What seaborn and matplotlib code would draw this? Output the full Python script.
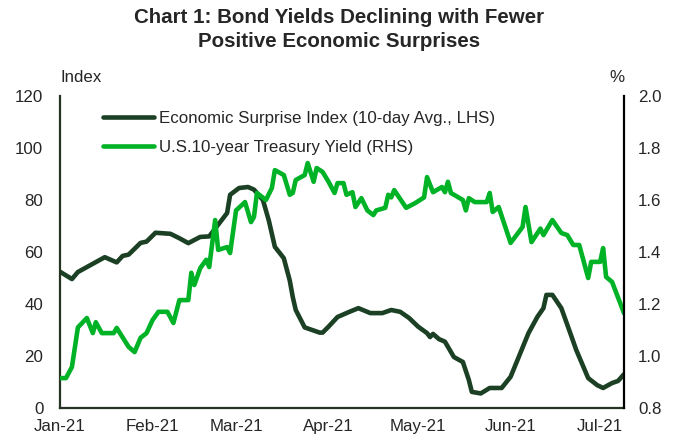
import matplotlib
matplotlib.use("Agg")
import matplotlib.pyplot as plt
import matplotlib.dates as mdates
import numpy as np
import pandas as pd
import seaborn as sns

# Economic surprise index, 10-day avg (LHS)
esi_dates = ['2021-01-01', '2021-01-05', '2021-01-07', '2021-01-16', '2021-01-20', '2021-01-22',
             '2021-01-24', '2021-01-28', '2021-01-30', '2021-02-02', '2021-02-07', '2021-02-10',
             '2021-02-13', '2021-02-17', '2021-02-20', '2021-02-22', '2021-02-26', '2021-02-27',
             '2021-03-02', '2021-03-05', '2021-03-07', '2021-03-10', '2021-03-12', '2021-03-14',
             '2021-03-17', '2021-03-19', '2021-03-20', '2021-03-21', '2021-03-24', '2021-03-29',
             '2021-03-30', '2021-04-01', '2021-04-04', '2021-04-08', '2021-04-11', '2021-04-15',
             '2021-04-19', '2021-04-22', '2021-04-25', '2021-04-28', '2021-05-01', '2021-05-04',
             '2021-05-05', '2021-05-06', '2021-05-08', '2021-05-10', '2021-05-13', '2021-05-16',
             '2021-05-18', '2021-05-19', '2021-05-22', '2021-05-25', '2021-05-29', '2021-06-01',
             '2021-06-04', '2021-06-07', '2021-06-10', '2021-06-12', '2021-06-13', '2021-06-15',
             '2021-06-18', '2021-06-21', '2021-06-23', '2021-06-27', '2021-06-30', '2021-07-02',
             '2021-07-05', '2021-07-07', '2021-07-09']
esi_values = [52.4, 49.6, 52.3, 58.0, 56.0, 58.5,
              59.0, 63.5, 64.0, 67.4, 67.0, 65.3,
              63.4, 65.8, 66.0, 69.0, 75.0, 82.0,
              84.6, 85.0, 84.0, 80.0, 72.0, 62.0,
              57.6, 49.0, 42.7, 37.7, 31.0, 29.0,
              29.0, 31.3, 35.0, 37.0, 38.4, 36.5,
              36.5, 37.7, 37.0, 34.6, 31.3, 28.8,
              27.3, 28.5, 26.5, 25.5, 19.6, 17.7,
              10.8, 6.2, 5.6, 7.7, 7.7, 12.0,
              20.4, 28.8, 35.1, 38.4, 43.5, 43.5,
              38.4, 28.8, 22.3, 11.5, 8.8, 7.7,
              9.6, 10.4, 13.0]

# US 10-year treasury yield (RHS)
ust_dates = ['2021-01-01', '2021-01-03', '2021-01-05', '2021-01-07', '2021-01-10', '2021-01-12',
             '2021-01-13', '2021-01-15', '2021-01-19', '2021-01-20', '2021-01-24', '2021-01-26',
             '2021-01-28', '2021-01-30', '2021-02-01', '2021-02-03', '2021-02-06', '2021-02-08',
             '2021-02-10', '2021-02-13', '2021-02-14', '2021-02-15', '2021-02-17', '2021-02-19',
             '2021-02-20', '2021-02-22', '2021-02-23', '2021-02-26', '2021-02-27', '2021-03-01',
             '2021-03-04', '2021-03-06', '2021-03-07', '2021-03-08', '2021-03-11', '2021-03-13',
             '2021-03-14', '2021-03-17', '2021-03-19', '2021-03-20', '2021-03-21', '2021-03-24',
             '2021-03-25', '2021-03-27', '2021-03-28', '2021-03-30', '2021-04-01', '2021-04-03',
             '2021-04-04', '2021-04-06', '2021-04-07', '2021-04-09', '2021-04-10', '2021-04-12',
             '2021-04-14', '2021-04-16', '2021-04-17', '2021-04-20', '2021-04-21', '2021-04-22',
             '2021-04-23', '2021-04-27', '2021-04-30', '2021-05-03', '2021-05-04', '2021-05-06',
             '2021-05-09', '2021-05-10', '2021-05-11', '2021-05-12', '2021-05-16', '2021-05-17',
             '2021-05-18', '2021-05-20', '2021-05-24', '2021-05-25', '2021-05-26', '2021-05-28',
             '2021-06-01', '2021-06-05', '2021-06-06', '2021-06-08', '2021-06-11', '2021-06-12',
             '2021-06-15', '2021-06-18', '2021-06-20', '2021-06-22', '2021-06-24', '2021-06-27',
             '2021-06-28', '2021-07-01', '2021-07-02', '2021-07-03', '2021-07-05', '2021-07-09']
ust_values = [0.915, 0.915, 0.958, 1.110, 1.146, 1.088,
              1.130, 1.088, 1.088, 1.108, 1.035, 1.015,
              1.070, 1.088, 1.138, 1.170, 1.170, 1.127,
              1.215, 1.215, 1.320, 1.273, 1.338, 1.370,
              1.342, 1.523, 1.408, 1.419, 1.396, 1.560,
              1.592, 1.515, 1.535, 1.627, 1.600, 1.646,
              1.715, 1.696, 1.620, 1.627, 1.677, 1.696,
              1.742, 1.670, 1.723, 1.708, 1.670, 1.627,
              1.665, 1.665, 1.620, 1.630, 1.573, 1.607,
              1.560, 1.542, 1.560, 1.570, 1.620, 1.610,
              1.638, 1.570, 1.588, 1.610, 1.688, 1.630,
              1.650, 1.630, 1.670, 1.627, 1.600, 1.560,
              1.607, 1.592, 1.592, 1.627, 1.554, 1.573,
              1.435, 1.496, 1.573, 1.438, 1.490, 1.465,
              1.523, 1.473, 1.465, 1.427, 1.427, 1.300,
              1.362, 1.362, 1.415, 1.304, 1.285, 1.165]

month_ticks = ['2021-01-01', '2021-02-01', '2021-03-01', '2021-04-01',
               '2021-05-01', '2021-06-01', '2021-07-01']

esi = pd.DataFrame({'date': pd.to_datetime(esi_dates), 'value': esi_values})
ust = pd.DataFrame({'date': pd.to_datetime(ust_dates), 'value': ust_values})

sns.set_style('white')
plt.rcParams['font.family'] = ['Liberation Sans', 'DejaVu Sans']

dark = '#1b4024'
bright = '#00b226'
fs = 12.2

fig = plt.figure(figsize=(6.78, 4.36), dpi=100)
ax = fig.add_axes([60 / 678, 1 - 408 / 436, 564 / 678, 312 / 436])
ax2 = ax.twinx()

sns.lineplot(data=esi, x='date', y='value', ax=ax, color=dark, lw=3.3,
             label='Economic Surprise Index (10-day Avg., LHS)', legend=False)
sns.lineplot(data=ust, x='date', y='value', ax=ax2, color=bright, lw=3.3,
             label='U.S.10-year Treasury Yield (RHS)', legend=False)

ax.set_xlim(pd.Timestamp('2021-01-01'), pd.Timestamp('2021-07-09'))
ax.set_ylim(0, 120)
ax.set_yticks(np.arange(0, 121, 20))
ax2.set_ylim(0.8, 2.0)
ax2.set_yticks(np.arange(0.8, 2.01, 0.2))
ax2.yaxis.set_major_formatter(matplotlib.ticker.FormatStrFormatter('%.1f'))

ax.set_xticks(pd.to_datetime(month_ticks))
ax.xaxis.set_major_formatter(mdates.DateFormatter('%b-%y'))

for a in (ax, ax2):
    a.set_xlabel('')
    a.set_ylabel('')
    for s in a.spines.values():
        s.set_visible(False)
ax.spines['left'].set_visible(True)
ax.spines['bottom'].set_visible(True)
ax.spines['left'].set_color('#243322')
ax.spines['bottom'].set_color('#243322')
ax.spines['left'].set_linewidth(1.6)
ax.spines['bottom'].set_linewidth(1.6)
ax2.spines['right'].set_visible(True)
ax2.spines['right'].set_color('black')
ax2.spines['right'].set_linewidth(1.6)

ax.tick_params(axis='y', length=0, pad=12, labelsize=fs)
ax.tick_params(axis='x', length=0, pad=8, labelsize=fs)
ax2.tick_params(axis='y', length=0, pad=10, labelsize=fs)

ax.text(0, 1.035, 'Index', transform=ax.transAxes, ha='left', va='bottom', fontsize=fs)
ax2.text(1, 1.035, '%', transform=ax2.transAxes, ha='right', va='bottom', fontsize=fs)

h1, l1 = ax.get_legend_handles_labels()
h2, l2 = ax2.get_legend_handles_labels()
leg = ax2.legend(h1 + h2, l1 + l2, loc='upper left', bbox_to_anchor=(0.05, 1.0),
                 frameon=False, fontsize=fs, handlelength=3.0, handletextpad=0.3,
                 labelspacing=0.8)

fig.text(0.5, 0.982, 'Chart 1: Bond Yields Declining with Fewer\nPositive Economic Surprises',
         ha='center', va='top', fontsize=14.8, fontweight='bold', linespacing=1.32)

fig.savefig('out.png', dpi=100)
